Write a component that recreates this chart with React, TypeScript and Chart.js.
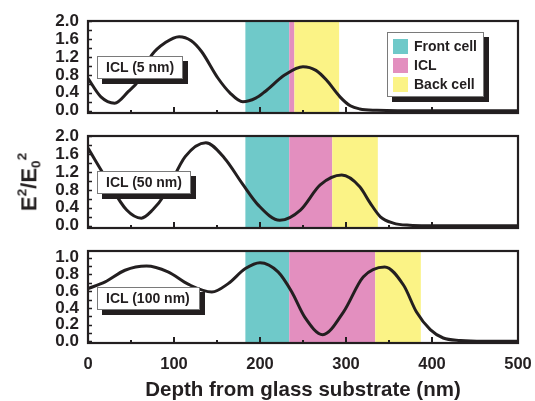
import React, { useEffect, useRef } from "react";
import { Chart, registerables } from "chart.js";

Chart.register(...registerables);

// ---------- data ----------
const depthICL5 = [0, 15, 31, 47, 58, 74, 90, 106, 120, 132, 151, 165, 180, 195, 206, 229, 250, 265, 277, 293, 305, 316, 336, 360, 400, 500];
const fieldICL5 = [0.72, 0.31, 0.17, 0.43, 0.65, 1.24, 1.52, 1.65, 1.56, 1.32, 0.73, 0.4, 0.2, 0.28, 0.43, 0.8, 0.98, 0.9, 0.69, 0.31, 0.11, 0.04, 0.01, 0, 0, 0];

const depthICL50 = [0, 20, 45, 62, 75, 90, 113, 137, 159, 179, 198, 223, 247, 270, 295, 316, 328, 340, 355, 374, 394, 500];
const fieldICL50 = [1.73, 1.09, 0.35, 0.17, 0.35, 0.72, 1.54, 1.85, 1.5, 0.95, 0.46, 0.12, 0.35, 0.91, 1.13, 0.87, 0.51, 0.2, 0.06, 0.01, 0, 0];

const depthICL100 = [0, 20, 43, 68, 93, 117, 144, 163, 183, 200, 221, 237, 252, 273, 297, 320, 345, 367, 382, 398, 413, 433, 460, 500];
const fieldICL100 = [0.63, 0.71, 0.85, 0.9, 0.83, 0.68, 0.59, 0.69, 0.87, 0.94, 0.83, 0.59, 0.29, 0.08, 0.35, 0.77, 0.89, 0.67, 0.35, 0.14, 0.04, 0.01, 0, 0];

const panelLabels = ["ICL (5 nm)", "ICL (50 nm)", "ICL (100 nm)"];

const frontCellRange = [183, 234];
const iclRanges = [[234, 240], [234, 284], [234, 334]];
const backCellRanges = [[240, 292], [284, 337], [334, 387]];

const legendLabels = ["Front cell", "ICL", "Back cell"];
const layerColors = ["#6fc9c9", "#e38fbf", "#fbf386"];

const yLabels2 = [0, 0.4, 0.8, 1.2, 1.6, 2.0];
const yMinor2 = [0, 0.2, 0.4, 0.6, 0.8, 1.0, 1.2, 1.4, 1.6, 1.8, 2.0];
const yLabels1 = [0, 0.2, 0.4, 0.6, 0.8, 1.0];
const yMinor1 = [0, 0.1, 0.2, 0.3, 0.4, 0.5, 0.6, 0.7, 0.8, 0.9, 1.0];
const xLabels = [0, 100, 200, 300, 400, 500];
const xMinor = [50, 150, 250, 350, 450];

const yRanges = [[-0.05, 2.0], [-0.05, 2.0], [-0.02, 1.08]];

const INK = "#231f20";
const FONT = "'Liberation Sans', Arial, Helvetica, sans-serif";

type PanelSpec = {
  depth: number[];
  field: number[];
  bands: { from: number; to: number; color: string }[];
  yLabels: number[];
  yMinor: number[];
  yRange: number[];
  top: number;
  height: number;
  padTop: number;
  padBottom: number;
  xHeight: number;
  showX: boolean;
};

const panels: PanelSpec[] = [
  {
    depth: depthICL5, field: fieldICL5,
    bands: [
      { from: frontCellRange[0], to: frontCellRange[1], color: layerColors[0] },
      { from: iclRanges[0][0], to: iclRanges[0][1], color: layerColors[1] },
      { from: backCellRanges[0][0], to: backCellRanges[0][1], color: layerColors[2] },
    ],
    yLabels: yLabels2, yMinor: yMinor2, yRange: yRanges[0],
    top: 0, height: 135, padTop: 21, padBottom: 22, xHeight: 0, showX: false,
  },
  {
    depth: depthICL50, field: fieldICL50,
    bands: [
      { from: frontCellRange[0], to: frontCellRange[1], color: layerColors[0] },
      { from: iclRanges[1][0], to: iclRanges[1][1], color: layerColors[1] },
      { from: backCellRanges[1][0], to: backCellRanges[1][1], color: layerColors[2] },
    ],
    yLabels: yLabels2, yMinor: yMinor2, yRange: yRanges[1],
    top: 100, height: 150, padTop: 36, padBottom: 22, xHeight: 0, showX: false,
  },
  {
    depth: depthICL100, field: fieldICL100,
    bands: [
      { from: frontCellRange[0], to: frontCellRange[1], color: layerColors[0] },
      { from: iclRanges[2][0], to: iclRanges[2][1], color: layerColors[1] },
      { from: backCellRanges[2][0], to: backCellRanges[2][1], color: layerColors[2] },
    ],
    yLabels: yLabels1, yMinor: yMinor1, yRange: yRanges[2],
    top: 215, height: 186, padTop: 36, padBottom: 0, xHeight: 58, showX: true,
  },
];

function decorPlugin(spec: PanelSpec) {
  return {
    id: "panelDecor",
    beforeDatasetsDraw(chart: any) {
      const { ctx, chartArea: a, scales } = chart;
      const x = scales.x;
      ctx.save();
      spec.bands.forEach((b) => {
        const x0 = x.getPixelForValue(b.from);
        const x1 = x.getPixelForValue(b.to);
        ctx.fillStyle = b.color;
        ctx.fillRect(x0, a.top, x1 - x0, a.bottom - a.top);
      });
      ctx.restore();
    },
    afterDatasetsDraw(chart: any) {
      const { ctx, chartArea: a, scales } = chart;
      const x = scales.x;
      const y = scales.y;
      ctx.save();
      ctx.strokeStyle = INK;
      ctx.lineWidth = 1.5;
      ctx.beginPath();
      spec.yMinor.forEach((v) => {
        const py = Math.round(y.getPixelForValue(v)) + 0.5;
        ctx.moveTo(a.left, py);
        ctx.lineTo(a.left + 4, py);
      });
      ctx.stroke();
      ctx.lineWidth = 2;
      ctx.beginPath();
      xLabels.forEach((v) => {
        const px = Math.round(x.getPixelForValue(v));
        ctx.moveTo(px, a.bottom);
        ctx.lineTo(px, a.bottom - 6);
      });
      xMinor.forEach((v) => {
        const px = Math.round(x.getPixelForValue(v));
        ctx.moveTo(px, a.bottom);
        ctx.lineTo(px, a.bottom - 3);
      });
      ctx.stroke();
      ctx.lineWidth = 2.2;
      ctx.strokeRect(a.left, a.top, a.right - a.left, a.bottom - a.top);
      ctx.restore();
    },
  };
}

function Panel({ spec }: { spec: PanelSpec }) {
  const ref = useRef<HTMLCanvasElement>(null);
  useEffect(() => {
    if (!ref.current) return;
    const chart = new Chart(ref.current, {
      type: "line",
      data: {
        datasets: [
          {
            data: spec.depth.map((d, i) => ({ x: d, y: spec.field[i] })),
            borderColor: INK,
            borderWidth: 3,
            pointRadius: 0,
            fill: false,
            cubicInterpolationMode: "monotone",
          },
        ],
      },
      options: {
        responsive: false,
        animation: false,
        events: [],
        layout: { padding: { top: spec.padTop, bottom: spec.padBottom, left: 0, right: 17 } },
        plugins: { legend: { display: false }, tooltip: { enabled: false } },
        scales: {
          x: {
            type: "linear",
            min: 0,
            max: 500,
            grid: { display: false, drawTicks: false },
            border: { display: false },
            afterBuildTicks: (s: any) => {
              s.ticks = xLabels.map((v) => ({ value: v }));
            },
            afterFit: (s: any) => {
              s.height = spec.xHeight;
              s.paddingLeft = 0;
              s.paddingRight = 0;
            },
            ticks: {
              display: spec.showX,
              autoSkip: false,
              maxRotation: 0,
              padding: 12,
              color: INK,
              font: { family: FONT, size: 16.5, weight: "bold" },
              callback: (v: any) => String(v),
            },
            title: {
              display: spec.showX,
              text: "Depth from glass substrate (nm)",
              color: INK,
              font: { family: FONT, size: 20.5, weight: "bold", lineHeight: 1 },
              padding: { top: 0, bottom: 0 },
            },
          },
          y: {
            type: "linear",
            min: spec.yRange[0],
            max: spec.yRange[1],
            grid: { display: false, drawTicks: false },
            border: { display: false },
            afterBuildTicks: (s: any) => {
              s.ticks = spec.yLabels.map((v) => ({ value: v }));
            },
            afterFit: (s: any) => {
              s.width = 88;
            },
            ticks: {
              autoSkip: false,
              padding: 9,
              color: INK,
              font: { family: FONT, size: 17, weight: "bold", lineHeight: 1 },
              callback: (v: any) => Number(v).toFixed(1),
            },
          },
        },
      },
      plugins: [decorPlugin(spec)],
    } as any);
    return () => chart.destroy();
  }, [spec]);
  return (
    <canvas
      ref={ref}
      width={535}
      height={spec.height}
      style={{ position: "absolute", left: 0, top: spec.top, width: 535, height: spec.height }}
    />
  );
}

const boxStyle: React.CSSProperties = {
  position: "absolute",
  background: "#fff",
  border: "1px solid #7a7a7a",
  boxShadow: `5px 5px 0 ${INK}`,
  boxSizing: "border-box",
  fontFamily: FONT,
  fontWeight: "bold",
  fontSize: 14,
  color: INK,
  whiteSpace: "nowrap",
};

const labelBoxes = [
  { left: 97, top: 56, width: 86, height: 23 },
  { left: 97, top: 171, width: 94, height: 23 },
  { left: 97, top: 287, width: 103, height: 23 },
];

export default function App() {
  return (
    <div style={{ position: "absolute", left: 0, top: 0, width: 535, height: 401, background: "#fff", overflow: "hidden" }}>
      {panels.map((p, i) => (
        <Panel key={i} spec={p} />
      ))}
      {labelBoxes.map((b, i) => (
        <div
          key={i}
          style={{
            ...boxStyle,
            left: b.left,
            top: b.top,
            width: b.width,
            height: b.height,
            lineHeight: `${b.height - 2}px`,
            paddingLeft: 8,
          }}
        >
          {panelLabels[i]}
        </div>
      ))}
      <div style={{ ...boxStyle, left: 387, top: 32, width: 97, height: 65 }}>
        {legendLabels.map((t, i) => (
          <div key={t} style={{ position: "absolute", left: 5, top: 5 + i * 19, height: 16, display: "flex", alignItems: "center" }}>
            <span style={{ display: "inline-block", width: 15, height: 15, background: layerColors[i], marginRight: 6 }} />
            <span style={{ lineHeight: "16px" }}>{t}</span>
          </div>
        ))}
      </div>
      <div
        style={{
          position: "absolute",
          left: 29,
          top: 182,
          transform: "translate(-50%, -50%) rotate(-90deg)",
          fontFamily: FONT,
          fontWeight: "bold",
          fontSize: 22,
          color: INK,
          whiteSpace: "nowrap",
          lineHeight: 1,
        }}
      >
        E<span style={{ fontSize: "0.62em", verticalAlign: "0.7em" }}>2</span>/E
        <span style={{ fontSize: "0.62em", verticalAlign: "-0.3em" }}>0</span>
        <span style={{ fontSize: "0.62em", verticalAlign: "0.7em" }}>2</span>
      </div>
    </div>
  );
}
